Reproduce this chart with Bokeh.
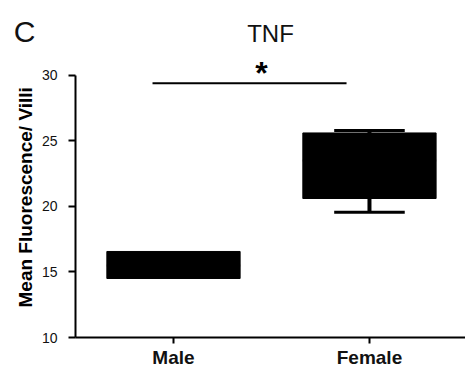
from bokeh.plotting import figure
from bokeh.models import Range1d, FixedTicker, LinearAxis, Title
from bokeh.core.properties import value
from bokeh.embed import file_html
from bokeh.resources import INLINE

# ---- data ----
groups = ["Male", "Female"]
group_pos = [0.5, 1.5]
q1 = [14.5, 20.6]
q3 = [16.56, 25.6]
medians = [15.5, 23.5]
whisker_low = [14.5, 19.55]
whisker_high = [16.56, 25.78]
y_ticks = [10, 15, 20, 25, 30]
sig_start, sig_end, sig_y = 0.393, 1.383, 29.39
sig_mark = "*"
sig_mark_x, sig_mark_y = 0.949, 30.15
title_text = "TNF"
title_x, title_y = 0.995, 33.19
panel_letter = "C"
panel_letter_y = 33.3
y_label = "Mean Fluorescence/ Villi"

FONT = "Liberation Sans"
BOX_W = 0.68
CAP_W = 0.36

p = figure(width=465, height=370, output_backend="svg", toolbar_location=None,
           x_range=Range1d(0, 1.99), y_range=Range1d(10, 35.70),
           min_border_left=75, min_border_top=0, min_border_bottom=32,
           min_border_right=0)
p.title.visible = False
p.outline_line_color = None
p.xgrid.grid_line_color = None
p.ygrid.grid_line_color = None
p.background_fill_color = "white"
p.border_fill_color = "white"

# boxes
p.vbar(x=group_pos, width=BOX_W, bottom=q1, top=q3,
       fill_color="black", line_color="black", line_width=1)
# medians
p.segment(x0=[g - BOX_W / 2 for g in group_pos], y0=medians,
          x1=[g + BOX_W / 2 for g in group_pos], y1=medians,
          line_color="black", line_width=2)

# whiskers and caps (only where the whisker extends past the box)
lo = [(g, w, b) for g, w, b in zip(group_pos, whisker_low, q1) if w < b]
hi = [(g, w, t) for g, w, t in zip(group_pos, whisker_high, q3) if w > t]
for sel in (lo, hi):
    if not sel:
        continue
    gx = [s[0] for s in sel]
    wv = [s[1] for s in sel]
    bv = [s[2] for s in sel]
    p.segment(x0=gx, y0=wv, x1=gx, y1=bv, line_color="black", line_width=4)
    p.segment(x0=[g - CAP_W / 2 for g in gx], y0=wv,
              x1=[g + CAP_W / 2 for g in gx], y1=wv,
              line_color="black", line_width=3)

# significance bar
p.segment(x0=[sig_start], y0=[sig_y], x1=[sig_end], y1=[sig_y],
          line_color="black", line_width=2)
p.text(x=[sig_mark_x], y=[sig_mark_y], text=[sig_mark], text_font=value(FONT),
       text_font_size="32px", text_font_style="bold", text_color="black",
       text_align="center", text_baseline="alphabetic")

# title
p.text(x=[title_x], y=[title_y], text=[title_text], text_font=value(FONT),
       text_font_size="24px", text_color="#111111",
       text_align="center", text_baseline="middle")

# x axis
xa = p.xaxis[0]
xa.ticker = FixedTicker(ticks=group_pos)
xa.major_label_overrides = {g: n for g, n in zip(group_pos, groups)}
xa.minor_tick_line_color = None
xa.major_tick_in = 0
xa.major_tick_out = 6
xa.major_tick_line_width = 2
xa.axis_line_width = 2
xa.axis_line_color = "black"
xa.major_tick_line_color = "black"
xa.major_label_standoff = 3
xa.major_label_text_font = FONT
xa.major_label_text_font_size = "19px"
xa.major_label_text_font_style = "bold"
xa.major_label_text_color = "#111111"

# y axis
ya = p.yaxis[0]
ya.bounds = (10, 30)
ya.ticker = FixedTicker(ticks=y_ticks)
ya.minor_tick_line_color = None
ya.major_tick_in = 0
ya.major_tick_out = 7
ya.major_tick_line_width = 2
ya.axis_line_width = 2
ya.axis_line_color = "black"
ya.major_tick_line_color = "black"
ya.major_label_standoff = 11
ya.major_label_text_font = FONT
ya.major_label_text_font_size = "14px"
ya.major_label_text_color = "#111111"

# y axis title (placed as a left-side title so it can sit low, like the original)
ytitle = Title(text=y_label, align="left", offset=30, standoff=6,
               text_font=FONT, text_font_size="19px", text_font_style="bold",
               text_color="black")
p.add_layout(ytitle, "left")

# panel letter, carried by an extra (invisible-line) left axis
letter_axis = LinearAxis(ticker=FixedTicker(ticks=[panel_letter_y]),
                         major_label_overrides={panel_letter_y: panel_letter})
letter_axis.axis_line_color = None
letter_axis.major_tick_line_color = None
letter_axis.minor_tick_line_color = None
letter_axis.major_tick_in = 0
letter_axis.major_tick_out = 0
letter_axis.major_label_standoff = -26
letter_axis.major_label_text_font = FONT
letter_axis.major_label_text_font_size = "30px"
letter_axis.major_label_text_color = "#111111"
p.add_layout(letter_axis, "left")

open("out.html", "w").write(file_html(p, INLINE))
